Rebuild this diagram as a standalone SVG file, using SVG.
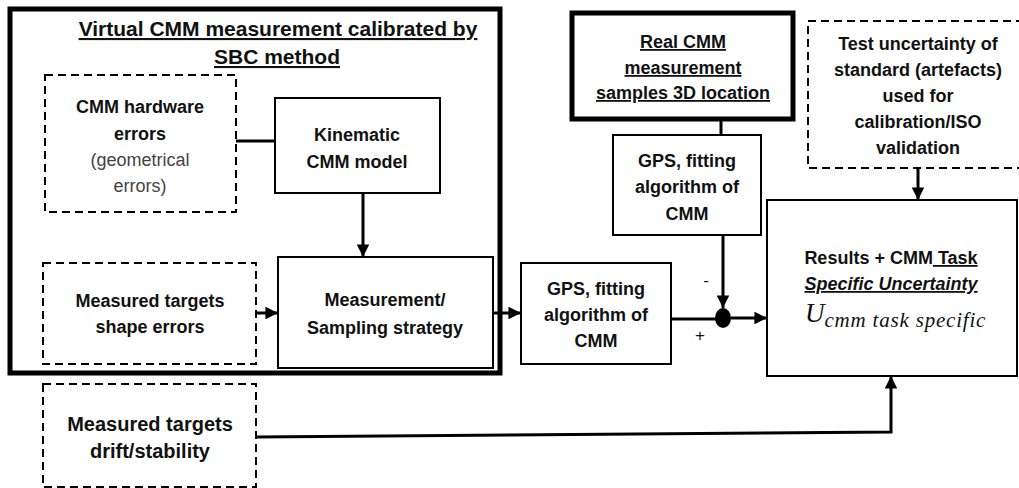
<svg xmlns="http://www.w3.org/2000/svg" width="1019" height="488" viewBox="0 0 1019 488">
  <style>
    text { font-family: "Liberation Sans", Arial, sans-serif; font-weight: bold; font-size: 18px; fill: #111; text-anchor: middle; }
    .box { fill: #fff; stroke: #000; stroke-width: 2; }
    .thick { fill: none; stroke: #000; stroke-width: 5; }
    .dash { fill: #fff; stroke: #000; stroke-width: 2; stroke-dasharray: 8 5; }
    .wire { fill: none; stroke: #000; stroke-width: 3; }
    .note { font-weight: normal; fill: #444; }
    .ul { text-decoration: underline; }
    .title { font-size: 21px; }
    .big { font-size: 20px; }
    .sign { font-weight: normal; font-size: 17px; }
    .math { font-family: "Liberation Serif", "DejaVu Serif", serif; font-style: italic; font-weight: normal; text-anchor: start; font-size: 27px; }
    .sub { font-size: 21px; letter-spacing: 0.8px; }
  </style>
  <defs>
    <marker id="arrow" viewBox="0 0 10 10" refX="10" refY="5" markerWidth="4.2" markerHeight="4.2" orient="auto" markerUnits="strokeWidth">
      <path d="M0,0 L10,5 L0,10 Z" fill="#000"/>
    </marker>
  </defs>

  <rect width="1019" height="488" fill="#fff"/>

  <!-- virtual CMM frame -->
  <g id="virtual-cmm">
    <rect class="thick" x="10" y="9" width="490" height="364"/>
    <text class="ul title" x="278" y="36">Virtual CMM measurement calibrated by</text>
    <text class="ul title" x="277" y="64">SBC method</text>
  </g>

  <g id="hardware-errors">
    <rect class="dash" x="45" y="75" width="191" height="137"/>
    <text x="140" y="113">CMM hardware</text>
    <text x="140" y="140">errors</text>
    <text class="note" x="140" y="166">(geometrical</text>
    <text class="note" x="140" y="192">errors)</text>
  </g>

  <g id="kinematic-model">
    <rect class="box" x="275" y="98" width="165" height="95"/>
    <text x="357" y="141">Kinematic</text>
    <text x="357" y="168">CMM model</text>
  </g>

  <g id="sampling-strategy">
    <rect class="box" x="278" y="257" width="215" height="111"/>
    <text x="385" y="306">Measurement/</text>
    <text x="385" y="334">Sampling strategy</text>
  </g>

  <g id="shape-errors">
    <rect class="dash" x="43" y="263" width="213" height="101"/>
    <text x="150" y="307">Measured targets</text>
    <text x="150" y="333">shape errors</text>
  </g>

  <g id="drift-stability">
    <rect class="dash" x="43" y="384" width="213" height="103"/>
    <text class="big" x="150" y="431">Measured targets</text>
    <text class="big" x="150" y="458">drift/stability</text>
  </g>

  <g id="gps-virtual">
    <rect class="box" x="521" y="263" width="150" height="101"/>
    <text x="596" y="295">GPS, fitting</text>
    <text x="596" y="321">algorithm of</text>
    <text x="596" y="347">CMM</text>
  </g>

  <g id="real-cmm">
    <rect class="thick" x="572" y="13" width="221" height="106" fill="#fff"/>
    <text class="ul" x="683" y="48">Real CMM</text>
    <text class="ul" x="683" y="74">measurement</text>
    <text class="ul" x="683" y="99">samples 3D location</text>
  </g>

  <g id="gps-real">
    <rect class="box" x="613" y="135" width="148" height="100"/>
    <text x="687" y="167">GPS, fitting</text>
    <text x="687" y="193">algorithm of</text>
    <text x="687" y="220">CMM</text>
  </g>

  <g id="standard-uncertainty">
    <rect class="dash" x="808" y="21" width="230" height="147"/>
    <text x="918" y="50">Test uncertainty of</text>
    <text x="918" y="76">standard (artefacts)</text>
    <text x="918" y="102">used for</text>
    <text x="918" y="128">calibration/ISO</text>
    <text x="918" y="154">validation</text>
  </g>

  <g id="results">
    <rect class="box" x="767" y="200" width="250" height="176"/>
    <text x="891" y="264">Results + CMM<tspan class="ul"> Task</tspan></text>
    <text class="ul" x="891" y="290" font-style="italic">Specific Uncertainty</text>
    <text class="math" x="805" y="322">U<tspan class="sub" dy="5">cmm task specific</tspan></text>
  </g>

  <!-- connectors -->
  <g id="connectors">
    <line class="wire" x1="236" y1="141" x2="275" y2="141"/>
    <line class="wire" x1="363" y1="193" x2="363" y2="257" marker-end="url(#arrow)"/>
    <line class="wire" x1="256" y1="313" x2="278" y2="313" marker-end="url(#arrow)"/>
    <line class="wire" x1="493" y1="313" x2="521" y2="313" marker-end="url(#arrow)"/>
    <line class="wire" x1="721" y1="119" x2="721" y2="135"/>
    <line class="wire" x1="723" y1="235" x2="723" y2="308" marker-end="url(#arrow)"/>
    <line class="wire" x1="671" y1="319" x2="716" y2="319"/>
    <ellipse cx="723" cy="318" rx="8" ry="10" fill="#000"/>
    <line class="wire" x1="731" y1="318" x2="767" y2="318" marker-end="url(#arrow)"/>
    <line class="wire" x1="918" y1="168" x2="918" y2="200" marker-end="url(#arrow)"/>
    <polyline class="wire" points="256,437 891,432 891,376" marker-end="url(#arrow)"/>
    <text class="sign" x="706" y="286">-</text>
    <text class="sign" x="700" y="341">+</text>
  </g>
</svg>
